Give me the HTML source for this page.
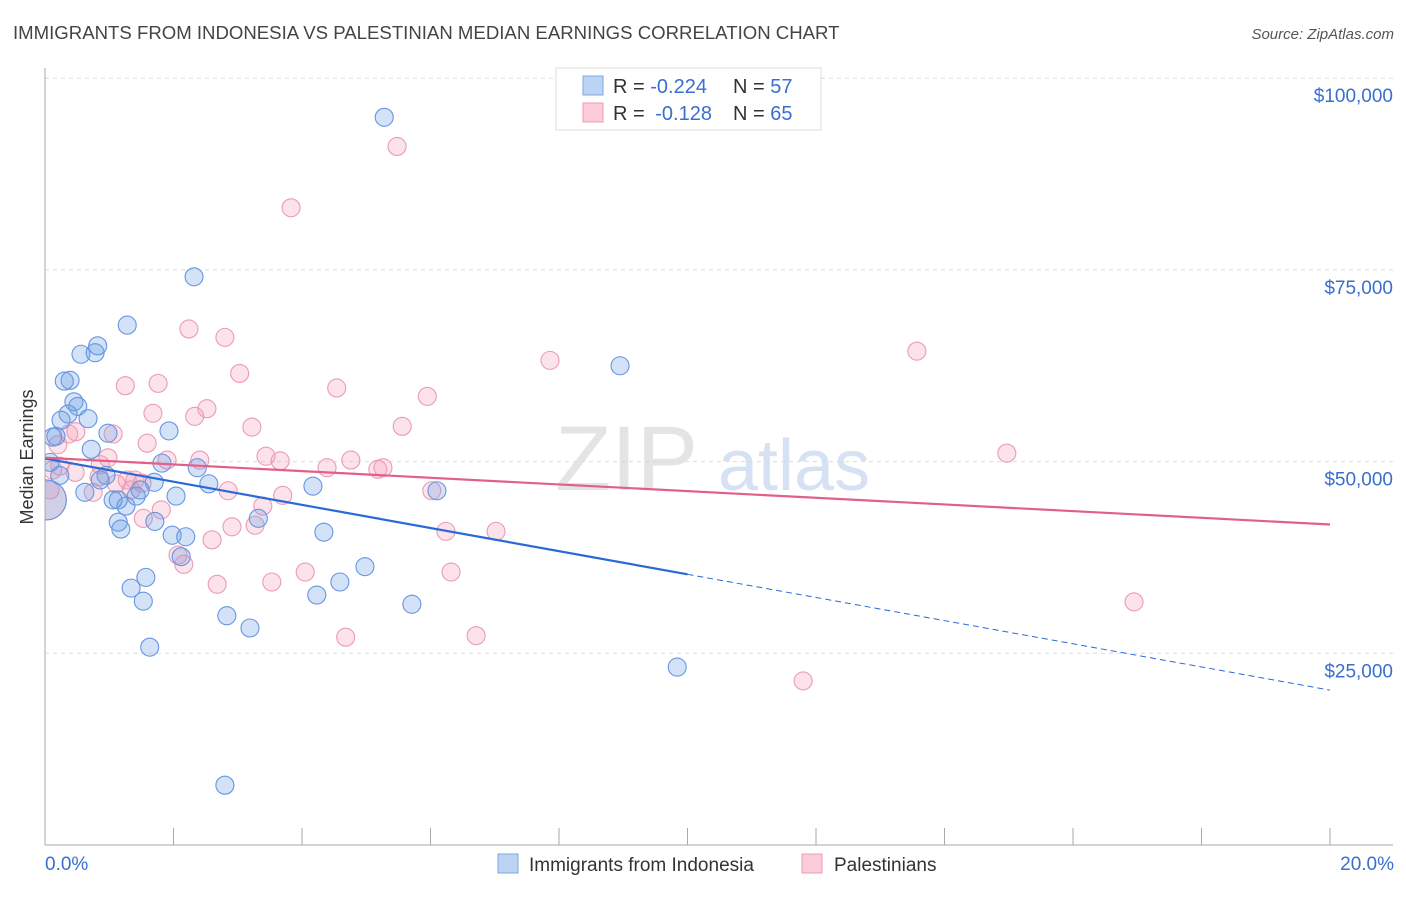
<!DOCTYPE html>
<html><head><meta charset="utf-8">
<style>
body{margin:0;background:#fff;font-family:"Liberation Sans",sans-serif;}
svg text{font-family:"Liberation Sans",sans-serif;}
</style></head>
<body>
<svg id="chart" width="1406" height="892" xmlns="http://www.w3.org/2000/svg">
<defs><clipPath id="plotclip"><rect x="45" y="60" width="1360" height="785"/></clipPath></defs>
<text x="13" y="39" font-size="18.6" fill="#444">IMMIGRANTS FROM INDONESIA VS PALESTINIAN MEDIAN EARNINGS CORRELATION CHART</text>
<text x="1394" y="39" font-size="15" fill="#555" text-anchor="end" font-style="italic">Source: ZipAtlas.com</text>
<g>
<text x="555" y="490" font-size="92" fill="#e4e4e4" font-family="Liberation Serif">ZIP</text>
<text x="718" y="490" font-size="72" fill="#d6e2f3">atlas</text>
</g>
<g id="grid"></g>
<g id="axes"></g>
<g id="marks" clip-path="url(#plotclip)"></g>
<text transform="translate(33,457) rotate(-90)" font-size="18" fill="#333" text-anchor="middle">Median Earnings</text>
<g>
<rect x="556" y="68" width="265" height="62" fill="#fff" stroke="#ddd"/>
<rect x="583" y="76" width="20" height="19" fill="#bcd4f4" stroke="#7ea6e0"/>
<rect x="583" y="103" width="20" height="19" fill="#fcccd9" stroke="#f09ab2"/>
<text x="613" y="93" font-size="20" fill="#333">R = <tspan fill="#3a6fd0">-0.224</tspan></text>
<text x="733" y="93" font-size="20" fill="#333">N = <tspan fill="#3a6fd0">57</tspan></text>
<text x="613" y="120" font-size="20" fill="#333">R = <tspan fill="#3a6fd0" dx="5">-0.128</tspan></text>
<text x="733" y="120" font-size="20" fill="#333">N = <tspan fill="#3a6fd0">65</tspan></text>
</g>
<g>
<rect x="498" y="854" width="20" height="19" fill="#bcd4f4" stroke="#7ea6e0"/>
<text x="529" y="871" font-size="19" fill="#333">Immigrants from Indonesia</text>
<rect x="802" y="854" width="20" height="19" fill="#fcccd9" stroke="#f09ab2"/>
<text x="834" y="871" font-size="19" fill="#333">Palestinians</text>
</g>
</svg>
<script>
const yTicks=[25000,50000,75000,100000];
const yTickLabels=["$25,000","$50,000","$75,000","$100,000"];
const xTickLabels=["0.0%","20.0%"];
const blueX=[5.28,2.32,1.28,0.82,0.56,0.78,0.39,0.30,8.95,0.45,0.51,0.36,0.25,0.67,0.17,0.12,0.98,1.93,0.72,1.82,2.37,2.55,1.70,0.95,0.86,0.62,1.06,1.14,1.26,1.42,1.48,2.04,4.17,6.10,1.71,1.14,1.18,1.98,2.19,3.32,4.34,2.12,1.57,1.34,1.53,4.59,4.98,4.23,5.71,2.83,3.19,1.63,9.84,2.80,0.08,0.23,0.02];
const blueY=[94900,74100,67800,65100,64000,64200,60600,60500,62500,57800,57200,56200,55400,55600,53300,53200,53700,54000,51600,49800,49200,47100,47300,48200,47600,46000,45000,45000,44200,45500,46300,45500,46800,46200,42200,42100,41200,40400,40200,42600,40800,37600,34900,33500,31800,34300,36300,32600,31400,29900,28300,25800,23200,7800,49900,48200,45000];
const pinkX=[5.48,3.83,2.24,2.80,3.03,1.25,1.76,7.86,13.57,4.54,5.95,1.68,2.52,2.33,3.22,5.56,1.06,0.37,0.48,1.59,0.23,0.12,0.98,1.90,2.41,3.44,3.66,4.76,4.39,5.26,5.18,14.97,0.47,0.84,1.28,1.40,1.51,1.11,0.75,1.34,2.85,3.70,6.02,1.81,1.53,3.39,2.60,2.91,3.27,2.07,2.16,2.68,3.53,4.05,6.24,7.02,6.32,4.68,6.71,16.95,11.80,0.08,0.86,0.20,0.02];
const pinkY=[91100,83100,67300,66200,61500,59900,60200,63200,64400,59600,58500,56300,56900,55900,54500,54600,53600,53600,53900,52400,49400,48900,50500,50200,50200,50700,50100,50200,49200,49200,49000,51100,48600,48000,47600,47600,47200,47100,46000,46300,46200,45600,46200,43700,42600,44200,39800,41500,41700,37800,36600,34000,34300,35600,40900,40900,35600,27100,27300,31700,21400,46300,49600,52200,45000];
const blueTrend=[50400,20200];
const pinkTrend=[50500,41800];
const NS="http://www.w3.org/2000/svg";
const X0=45,X1=1330,Y0=845,YPER=191.7/25000;
function sx(v){return X0+(v/20)*(X1-X0);}
function sy(v){return Y0-v*YPER;}
function mk(tag,attrs,parent){const e=document.createElementNS(NS,tag);for(const k in attrs)e.setAttribute(k,attrs[k]);parent.appendChild(e);return e;}
const gridG=document.getElementById('grid'),axesG=document.getElementById('axes'),marksG=document.getElementById('marks');
yTicks.forEach((t,i)=>{
 const l=mk('line',{x1:45,x2:1393,y1:sy(t),y2:sy(t),stroke:'#dcdcdc','stroke-dasharray':'4,4'},gridG);
 
 
 const tx=mk('text',{x:1393,y:sy(t)+24,'font-size':19,fill:'#3a6fd0','text-anchor':'end'},axesG);
 tx.textContent=yTickLabels[i];
 
 
});
const ya=mk('line',{x1:45,x2:45,y1:68,y2:845,stroke:'#aaa'},axesG);


const xa=mk('line',{x1:45,x2:1393,y1:845,y2:845,stroke:'#aaa'},axesG);


for(let i=0;i<=10;i++){
 const t=mk('line',{x1:sx(i*2),x2:sx(i*2),y1:828,y2:845,stroke:'#aaa'},axesG);
 
 
}
const xl0=mk('text',{x:45,y:870,'font-size':19,fill:'#3a6fd0'},axesG);xl0.textContent=xTickLabels[0];


const xl1=mk('text',{x:1394,y:870,'font-size':19,fill:'#3a6fd0','text-anchor':'end'},axesG);xl1.textContent=xTickLabels[1];


function pts(xs,ys,fill,stroke,name){
 xs.forEach((x,i)=>{
  const big=(i===xs.length-1);
  const c=mk('circle',{cx:sx(x),cy:sy(ys[i]),r:big?20:9,fill:fill,stroke:stroke,'stroke-width':1.1},marksG);
  
  
 });
}
pts(pinkX,pinkY,'rgba(244,160,187,0.3)','#ec9bb3','palestinian-point');
pts(blueX,blueY,'rgba(110,160,230,0.3)','#6596e2','indonesia-point');
const bm=blueTrend[0]+(blueTrend[1]-blueTrend[0])/2;
const b1=mk('line',{x1:sx(0),y1:sy(blueTrend[0]),x2:sx(10),y2:sy(bm),stroke:'#2a6ad6','stroke-width':2.2},marksG);


const b2=mk('line',{x1:sx(10),y1:sy(bm),x2:sx(20),y2:sy(blueTrend[1]),stroke:'#2a6ad6','stroke-width':1,'stroke-dasharray':'6,4'},marksG);


const p1=mk('line',{x1:sx(0),y1:sy(pinkTrend[0]),x2:sx(20),y2:sy(pinkTrend[1]),stroke:'#e0608a','stroke-width':2.2},marksG);


</script>
</body></html>
